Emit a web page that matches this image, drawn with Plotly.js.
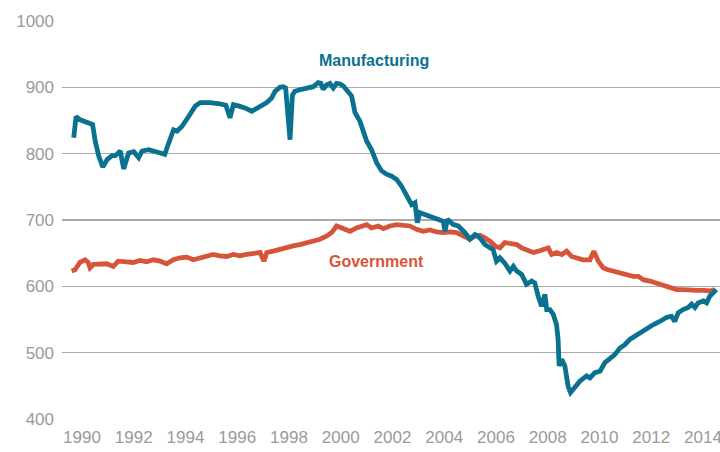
<!DOCTYPE html>
<html>
<head>
<meta charset="utf-8">
<script src="https://cdn.plot.ly/plotly-3.0.1.min.js"></script>
<style>html,body{margin:0;padding:0;background:#fff;}#chart{width:720px;height:452px;}</style>
</head>
<body>
<div id="chart"></div>
<script>
// Manufacturing (thousands) – decimal year / value
const mfgYears = [1989.68,1989.77,1989.93,1990.07,1990.26,1990.41,1990.51,1990.65,1990.80,1990.97,1991.16,1991.29,1991.48,1991.61,1991.80,1992.00,1992.19,1992.32,1992.58,1992.83,1993.09,1993.20,1993.35,1993.54,1993.67,1993.86,1994.12,1994.38,1994.57,1994.95,1995.33,1995.56,1995.72,1995.85,1996.04,1996.30,1996.56,1996.75,1996.94,1997.14,1997.33,1997.46,1997.65,1997.78,1997.87,1998.04,1998.13,1998.23,1998.49,1998.74,1998.94,1999.13,1999.23,1999.32,1999.46,1999.58,1999.71,1999.84,1999.97,2000.10,2000.29,2000.42,2000.55,2000.74,2000.87,2001.00,2001.19,2001.39,2001.58,2001.77,2001.97,2002.16,2002.35,2002.55,2002.74,2002.87,2002.96,2003.06,2003.25,2003.45,2003.57,2003.77,2003.96,2004.03,2004.12,2004.35,2004.54,2004.80,2004.99,2005.19,2005.38,2005.57,2005.77,2005.89,2006.02,2006.15,2006.34,2006.54,2006.67,2006.80,2006.99,2007.18,2007.38,2007.50,2007.63,2007.76,2007.89,2007.96,2008.08,2008.21,2008.34,2008.40,2008.44,2008.54,2008.66,2008.79,2008.88,2009.05,2009.24,2009.50,2009.63,2009.82,2010.02,2010.21,2010.40,2010.59,2010.79,2010.98,2011.17,2011.37,2011.63,2011.82,2012.07,2012.33,2012.59,2012.78,2012.91,2013.04,2013.23,2013.43,2013.56,2013.69,2013.81,2014.01,2014.14,2014.26,2014.39,2014.52];
const mfgValues = [824,856,851,849,847,844,819,796,780,791,797,797,804,777,801,803,794,804,806,803,801,799,816,836,834,841,856,872,877,877,875,873,854,874,872,869,864,868,871,877,884,894,900,901,899,821,888,894,897,899,901,907,906,897,904,906,899,906,905,902,894,887,862,849,834,819,806,786,774,769,766,761,751,738,723,726,696,711,708,706,703,701,698,683,701,693,691,681,671,678,673,663,658,655,638,643,635,623,630,623,618,603,608,605,585,570,588,565,565,558,542,520,480,490,480,449,440,449,457,465,462,470,472,485,490,497,507,512,520,525,532,537,542,547,553,555,547,560,565,568,573,568,575,578,575,585,590,595];

// Government (thousands)
const govYears = [1989.60,1989.73,1989.92,1990.12,1990.24,1990.31,1990.44,1990.70,1990.95,1991.21,1991.40,1991.73,1991.98,1992.24,1992.50,1992.76,1993.01,1993.27,1993.53,1993.79,1994.05,1994.30,1994.56,1994.82,1995.07,1995.33,1995.59,1995.85,1996.10,1996.36,1996.62,1996.88,1997.03,1997.14,1997.39,1997.65,1997.91,1998.16,1998.42,1998.68,1998.94,1999.20,1999.46,1999.65,1999.84,2000.10,2000.36,2000.61,2000.87,2001.00,2001.19,2001.45,2001.64,2001.90,2002.16,2002.41,2002.67,2002.93,2003.19,2003.45,2003.71,2003.96,2004.22,2004.48,2004.73,2004.99,2005.19,2005.38,2005.57,2005.77,2005.96,2006.15,2006.34,2006.54,2006.80,2006.99,2007.25,2007.44,2007.63,2007.82,2008.02,2008.15,2008.34,2008.54,2008.73,2008.92,2009.11,2009.37,2009.63,2009.78,2009.95,2010.14,2010.33,2010.53,2010.79,2011.05,2011.30,2011.50,2011.69,2011.95,2012.21,2012.47,2012.72,2012.98,2013.24,2013.49,2013.75,2014.01,2014.27,2014.46];
const govValues = [623,625,636,640,636,628,633,633,634,630,638,637,636,639,637,640,638,634,640,643,644,640,643,645,648,646,645,648,646,648,650,651,638,651,653,656,658,661,663,666,668,671,676,681,691,686,683,688,691,693,688,691,687,691,693,692,691,686,683,685,682,681,682,681,676,671,676,677,673,668,661,658,666,665,663,658,653,651,653,656,658,648,651,648,653,645,643,640,640,653,638,628,625,623,620,618,615,615,610,608,605,601,598,595,595,594,594,594,593,595];

const tickYears = [1990,1992,1994,1996,1998,2000,2002,2004,2006,2008,2010,2012,2014];
const tickLabels = ["1990","1992","1994","1996","1998","2000","2002","2004","2006","2008","2010","2012","2014"];
const yTicks = [400,500,600,700,800,900,1000];

const seriesNames = ["Manufacturing","Government"];
const colors = ["#0a7290","#d6553a"];

const traces = [
  {x: govYears, y: govValues, name: seriesNames[1], type: "scatter", mode: "lines",
   line: {color: colors[1], width: 4.8}},
  {x: mfgYears, y: mfgValues, name: seriesNames[0], type: "scatter", mode: "lines",
   line: {color: colors[0], width: 4.8}}
];

const layout = {
  width: 720, height: 452,
  margin: {l: 62, r: 0, t: 21, b: 33},
  paper_bgcolor: "#fff", plot_bgcolor: "#fff",
  showlegend: false,
  font: {family: "Liberation Sans, Arial, sans-serif", color: "#9a9a9a", size: 17},
  xaxis: {
    range: [1989.227, 2014.657],
    tickmode: "array", tickvals: tickYears, ticktext: tickLabels,
    showgrid: false, zeroline: false, showline: false, ticks: "",
    ticklabelstandoff: 6, ticklabeloverflow: "allow",
    tickfont: {size: 17, color: "#9a9a9a"}
  },
  yaxis: {
    range: [400, 1000],
    tickmode: "array", tickvals: yTicks,
    showgrid: true, gridcolor: "#aaaaaa", gridwidth: 1.2,
    zeroline: false, showline: false, ticks: "",
    ticklabelstandoff: 7, ticklabeloverflow: "allow",
    tickfont: {size: 17, color: "#9a9a9a"}
  },
  annotations: [
    {x: 2001.3, y: 940, xref: "x", yref: "y", text: "<b>Manufacturing</b>", showarrow: false,
     font: {size: 16, color: colors[0], family: "Liberation Sans, Arial, sans-serif"}},
    {x: 2001.4, y: 637, xref: "x", yref: "y", text: "<b>Government</b>", showarrow: false,
     font: {size: 16, color: colors[1], family: "Liberation Sans, Arial, sans-serif"}}
  ]
};

Plotly.newPlot("chart", traces, layout, {staticPlot: true, displayModeBar: false});
</script>
</body>
</html>
